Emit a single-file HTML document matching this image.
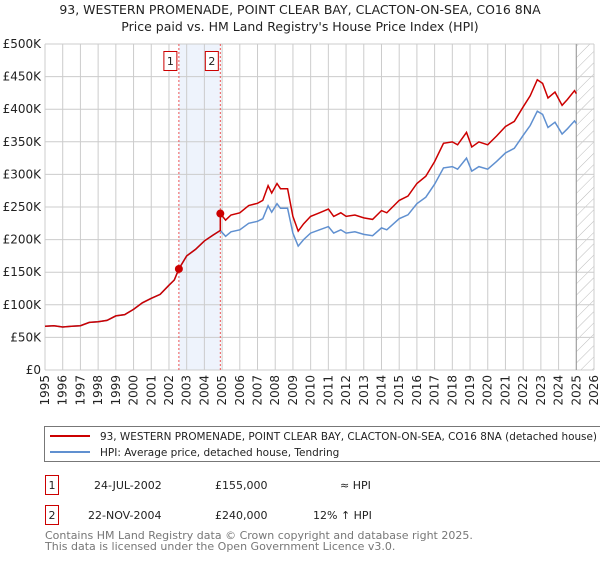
<!DOCTYPE html>
<html><head><meta charset="utf-8"><style>
body{margin:0;background:#fff;font-family:"DejaVu Sans","Liberation Sans",sans-serif;}
svg text{font-family:"DejaVu Sans","Liberation Sans",sans-serif;}
</style></head><body>
<svg id="chart" width="600" height="560" xmlns="http://www.w3.org/2000/svg">
<defs><pattern id="hatch" width="8" height="8" patternUnits="userSpaceOnUse" patternTransform="rotate(45)"><line x1="0" y1="0" x2="0" y2="8" stroke="#bbb" stroke-width="1"/></pattern></defs>
<text x="300" y="14" font-size="12.5" text-anchor="middle" fill="#222">93, WESTERN PROMENADE, POINT CLEAR BAY, CLACTON-ON-SEA, CO16 8NA</text>
<text x="300" y="31" font-size="12.5" text-anchor="middle" fill="#222">Price paid vs. HM Land Registry's House Price Index (HPI)</text>
<g id="plot"></g>
<rect x="44.5" y="426.5" width="560" height="35" fill="#fff" stroke="#777"/>
<line x1="50" y1="436" x2="90" y2="436" stroke="#cc0000" stroke-width="2"/>
<text x="100" y="440" font-size="10.5" fill="#222" textLength="497" lengthAdjust="spacingAndGlyphs">93, WESTERN PROMENADE, POINT CLEAR BAY, CLACTON-ON-SEA, CO16 8NA (detached house)</text>
<line x1="50" y1="452" x2="90" y2="452" stroke="#6090d0" stroke-width="2"/>
<text x="100" y="456" font-size="10.5" fill="#222">HPI: Average price, detached house, Tendring</text>
<g font-size="11" fill="#222">
<rect x="45.5" y="475.5" width="13" height="19" fill="#fff" stroke="#cc0000"/>
<text x="52" y="489" text-anchor="middle">1</text>
<text x="94" y="489">24-JUL-2002</text>
<text x="215" y="489">£155,000</text>
<text x="340" y="489">≈ HPI</text>
</g>
<g font-size="11" fill="#222">
<rect x="45.5" y="505.5" width="13" height="19" fill="#fff" stroke="#cc0000"/>
<text x="52" y="519" text-anchor="middle">2</text>
<text x="88" y="519">22-NOV-2004</text>
<text x="215" y="519">£240,000</text>
<text x="313" y="519">12% ↑ HPI</text>
</g>
<text x="45" y="539" font-size="11" fill="#777">Contains HM Land Registry data © Crown copyright and database right 2025.</text>
<text x="45" y="550" font-size="11" fill="#777">This data is licensed under the Open Government Licence v3.0.</text>
</svg>
<script>
const hpiYears=[1995,1995.5,1996,1996.5,1997,1997.5,1998,1998.5,1999,1999.5,2000,2000.5,2001,2001.5,2002,2002.3,2002.56,2003,2003.5,2004,2004.5,2004.9,2005.2,2005.5,2006,2006.5,2007,2007.3,2007.6,2007.8,2008.1,2008.3,2008.7,2009.0,2009.3,2009.6,2010,2010.5,2011,2011.3,2011.7,2012,2012.5,2013,2013.5,2014,2014.3,2015,2015.5,2016,2016.5,2017,2017.5,2018,2018.3,2018.8,2019.1,2019.5,2020,2020.5,2021,2021.5,2022,2022.4,2022.8,2023.1,2023.4,2023.8,2024.2,2024.5,2024.9,2025.0];
const hpiValues=[67,68,66,67,68,73,74,76,83,85,93,103,110,116,130,138,155,175,185,198,207,214,205,212,215,225,228,232,252,242,255,248,248,210,190,200,210,215,220,210,215,210,212,208,206,218,215,232,238,255,265,285,310,312,308,325,305,312,308,320,333,340,360,375,397,392,372,380,362,370,382,378];
const saleYears=[2002.56,2004.9];
const salePrices=[155,240];
const yTicks=[0,50,100,150,200,250,300,350,400,450,500];
const yTickLabels=["£0","£50K","£100K","£150K","£200K","£250K","£300K","£350K","£400K","£450K","£500K"];
const xTicks=[1995,1996,1997,1998,1999,2000,2001,2002,2003,2004,2005,2006,2007,2008,2009,2010,2011,2012,2013,2014,2015,2016,2017,2018,2019,2020,2021,2022,2023,2024,2025,2026];
const NS="http://www.w3.org/2000/svg";
const L=45,R=594,T=44,B=370;
const x=v=>L+(v-1995)/31*(R-L);
const y=v=>B-v/500*(B-T);
const g=document.getElementById('plot');
function mk(t,a){const e=document.createElementNS(NS,t);for(const k in a)e.setAttribute(k,a[k]);g.appendChild(e);return e;}
let e=mk('rect',{x:x(saleYears[0]),y:T,width:x(saleYears[1])-x(saleYears[0]),height:B-T,fill:'#eef3fc'});


e=mk('rect',{x:x(2025),y:T,width:R-x(2025),height:B-T,fill:'url(#hatch)'});


yTicks.forEach((v,i)=>{
 let l=mk('line',{x1:L,x2:R,y1:y(v),y2:y(v),stroke:'#ccc','stroke-width':1});
 
 
 let t=mk('text',{x:L-4,y:y(v)+4,'font-size':12,'text-anchor':'end',fill:'#222'});
 t.textContent=yTickLabels[i];
 
 
});
xTicks.forEach(v=>{
 let l=mk('line',{x1:x(v),x2:x(v),y1:T,y2:B,stroke:'#ccc','stroke-width':1});
 
 
 let t=mk('text',{x:0,y:0,'font-size':12,'text-anchor':'end',fill:'#222',transform:`translate(${x(v)+4},375) rotate(-90)`});
 t.textContent=String(v);
 
 
});
e=mk('line',{x1:x(2025),x2:x(2025),y1:T,y2:B,stroke:'#999','stroke-width':1});


saleYears.forEach(v=>{
 let l=mk('line',{x1:x(v),x2:x(v),y1:T,y2:B,stroke:'#ee5555','stroke-width':1,'stroke-dasharray':'2,2'});
 
 
});
const hp=hpiYears.map((t,i)=>x(t).toFixed(1)+','+y(hpiValues[i]).toFixed(1)).join(' ');
e=mk('polyline',{points:hp,fill:'none',stroke:'#6090d0','stroke-width':1.5});


function hpiAt(t){for(let i=1;i<hpiYears.length;i++){if(t<=hpiYears[i]){const f=(t-hpiYears[i-1])/(hpiYears[i]-hpiYears[i-1]);return hpiValues[i-1]+f*(hpiValues[i]-hpiValues[i-1]);}}return hpiValues[hpiValues.length-1];}
const pts=[];
hpiYears.forEach((t,i)=>{
 let ref=0;for(let k=0;k<saleYears.length;k++)if(saleYears[k]<=t)ref=k;
 const r=salePrices[ref]/hpiAt(saleYears[ref]);
 pts.push([t,hpiValues[i]*r]);
});
saleYears.forEach((s,k)=>{pts.push([s,salePrices[k]]);});
pts.push([saleYears[1]-0.001,hpiAt(saleYears[1])*salePrices[0]/hpiAt(saleYears[0])]);
pts.sort((a,b)=>a[0]-b[0]);
e=mk('polyline',{points:pts.map(p=>x(p[0]).toFixed(1)+','+y(p[1]).toFixed(1)).join(' '),fill:'none',stroke:'#cc0000','stroke-width':1.5});


saleYears.forEach((s,k)=>{
 let c=mk('circle',{cx:x(s),cy:y(salePrices[k]),r:4,fill:'#cc0000'});
 
 
 let b=mk('rect',{x:x(s)-15,y:51.5,width:13,height:19,fill:'#fff',stroke:'#cc0000'});
 
 
 let t=mk('text',{x:x(s)-8.5,y:65,'font-size':11,'text-anchor':'middle',fill:'#222'});
 t.textContent=String(k+1);
 
 
});
</script>
</body></html>
